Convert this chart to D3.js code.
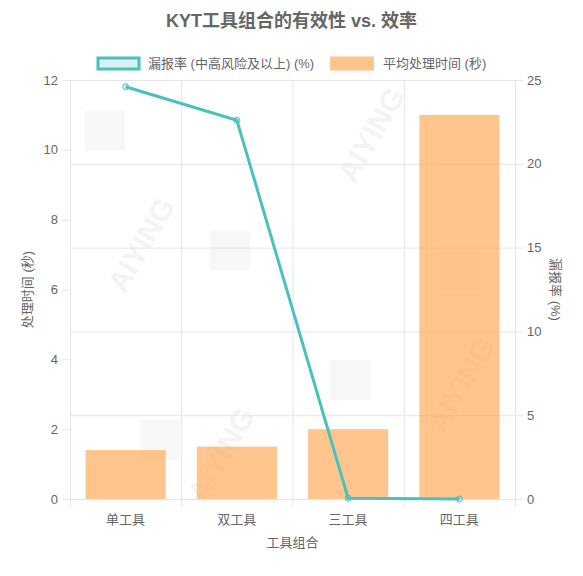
<!DOCTYPE html>
<html>
<head>
<meta charset="utf-8">
<script src="https://cdn.jsdelivr.net/npm/d3@7"></script>
<style>
  body { margin: 0; background: #fff; }
  svg { display: block; font-family: "Liberation Sans", "Noto Sans CJK SC", sans-serif; }
</style>
</head>
<body>
<div id="chart"></div>
<script>
/* data */
var categories = ["单工具", "双工具", "三工具", "四工具"];
var avgTime = [1.4, 1.5, 2.0, 11.0];        // 秒, left axis
var missRate = [24.6, 22.6, 0.05, 0.0];      // %, right axis
var leftTicks = [0, 2, 4, 6, 8, 10, 12];
var rightTicks = [0, 5, 10, 15, 20, 25];

var W = 583, H = 576;
var m = {left: 70, right: 68, top: 80, bottom: 77};
var pw = W - m.left - m.right, ph = H - m.top - m.bottom;
var fs = 13, tickColor = "#666";

var svg = d3.select("#chart").append("svg")
    .attr("width", W).attr("height", H);

/* faint watermark, drawn first so it sits under everything */
var wm = svg.append("g").attr("class", "watermark");
[[150, 250], [380, 140], [230, 460], [470, 390]].forEach(function(p){
    wm.append("text")
	.attr("transform", "translate(" + p[0] + "," + p[1] + ") rotate(-60)")
	.attr("text-anchor", "middle")
	.attr("font-size", 30).attr("font-weight", "bold")
	.attr("fill", "#f4f4f4")
	.text("AIYING");
});
[[85, 110], [210, 230], [330, 360], [440, 250], [140, 420]].forEach(function(p){
    wm.append("rect")
	.attr("x", p[0]).attr("y", p[1]).attr("width", 40).attr("height", 40)
	.attr("fill", "#f7f7f7");
});

var x = d3.scaleBand().domain(categories).range([m.left, m.left + pw]).paddingInner(0).paddingOuter(0);
var yL = d3.scaleLinear().domain([0, 12]).range([m.top + ph, m.top]);
var yR = d3.scaleLinear().domain([0, 25]).range([m.top + ph, m.top]);

var grid = svg.append("g").attr("stroke", "#e5e5e5").attr("stroke-width", 1);
// horizontal grid from the right axis
grid.selectAll("line.h").data(rightTicks).enter().append("line")
    .attr("class", "h")
    .attr("x1", m.left).attr("x2", m.left + pw + 8)
    .attr("y1", function(d){ return yR(d) + 0.5; })
    .attr("y2", function(d){ return yR(d) + 0.5; });
// vertical grid on category boundaries
var bounds = categories.map(function(c){ return x(c); }).concat([m.left + pw]);
grid.selectAll("line.v").data(bounds).enter().append("line")
    .attr("class", "v")
    .attr("x1", function(d){ return d + 0.5; }).attr("x2", function(d){ return d + 0.5; })
    .attr("y1", m.top).attr("y2", m.top + ph + 8);

// left ticks (no grid)
grid.selectAll("line.lt").data(leftTicks).enter().append("line")
    .attr("x1", m.left - 8).attr("x2", m.left)
    .attr("y1", function(d){ return yL(d) + 0.5; })
    .attr("y2", function(d){ return yL(d) + 0.5; });

/* bars */
var bw = x.bandwidth() * 0.72;
svg.append("g").selectAll("rect").data(avgTime).enter().append("rect")
    .attr("x", function(d, i){ return x(categories[i]) + (x.bandwidth() - bw) / 2; })
    .attr("y", function(d){ return yL(d); })
    .attr("width", bw)
    .attr("height", function(d){ return yL(0) - yL(d); })
    .attr("fill", "rgba(255,159,64,0.6)");

/* line */
var line = d3.line()
    .x(function(d, i){ return x(categories[i]) + x.bandwidth() / 2; })
    .y(function(d){ return yR(d); });
svg.append("path").datum(missRate)
    .attr("d", line)
    .attr("fill", "none")
    .attr("stroke", "rgb(75,192,192)")
    .attr("stroke-width", 3);
svg.append("g").selectAll("circle").data(missRate).enter().append("circle")
    .attr("cx", function(d, i){ return x(categories[i]) + x.bandwidth() / 2; })
    .attr("cy", function(d){ return yR(d); })
    .attr("r", 3)
    .attr("fill", "rgba(75,192,192,0.2)")
    .attr("stroke", "rgb(75,192,192)")
    .attr("stroke-width", 1);

/* tick labels */
svg.append("g").selectAll("text").data(leftTicks).enter().append("text")
    .attr("x", m.left - 12).attr("y", function(d){ return yL(d); })
    .attr("dy", "0.35em").attr("text-anchor", "end")
    .attr("font-size", fs).attr("fill", tickColor)
    .text(function(d){ return d; });
svg.append("g").selectAll("text").data(rightTicks).enter().append("text")
    .attr("x", m.left + pw + 12).attr("y", function(d){ return yR(d); })
    .attr("dy", "0.35em").attr("text-anchor", "start")
    .attr("font-size", fs).attr("fill", tickColor)
    .text(function(d){ return d; });
svg.append("g").selectAll("text").data(categories).enter().append("text")
    .attr("x", function(d){ return x(d) + x.bandwidth() / 2; })
    .attr("y", m.top + ph + 20)
    .attr("dy", "0.35em")
    .attr("text-anchor", "middle")
    .attr("font-size", fs).attr("fill", tickColor)
    .text(function(d){ return d; });

/* axis titles */
svg.append("text")
    .attr("x", m.left + pw / 2).attr("y", 542).attr("dy", "0.35em")
    .attr("text-anchor", "middle").attr("font-size", fs).attr("fill", tickColor)
    .text("工具组合");
svg.append("text")
    .attr("transform", "translate(27," + (m.top + ph / 2) + ") rotate(-90)")
    .attr("dy", "0.35em")
    .attr("text-anchor", "middle").attr("font-size", fs).attr("fill", tickColor)
    .text("处理时间 (秒)");
svg.append("text")
    .attr("transform", "translate(556," + (m.top + ph / 2) + ") rotate(90)")
    .attr("dy", "0.35em")
    .attr("text-anchor", "middle").attr("font-size", fs).attr("fill", tickColor)
    .text("漏报率 (%)");

/* title */
svg.append("text")
    .attr("x", W / 2).attr("y", 21).attr("dy", "0.35em")
    .attr("text-anchor", "middle").attr("font-size", 18).attr("font-weight", "bold")
    .attr("fill", "#666")
    .text("KYT工具组合的有效性 vs. 效率");

/* legend */
var lg = svg.append("g");
lg.append("rect").attr("x", 98).attr("y", 58).attr("width", 41).attr("height", 11)
    .attr("fill", "rgba(75,192,192,0.2)").attr("stroke", "rgb(75,192,192)").attr("stroke-width", 3);
lg.append("text").attr("x", 148).attr("y", 63.5).attr("dy", "0.35em")
    .attr("font-size", fs).attr("fill", tickColor).text("漏报率 (中高风险及以上) (%)");
lg.append("rect").attr("x", 330).attr("y", 56.5).attr("width", 44).attr("height", 14)
    .attr("fill", "rgba(255,159,64,0.6)");
lg.append("text").attr("x", 383).attr("y", 63.5).attr("dy", "0.35em")
    .attr("font-size", fs).attr("fill", tickColor).text("平均处理时间 (秒)");
</script>
</body>
</html>
